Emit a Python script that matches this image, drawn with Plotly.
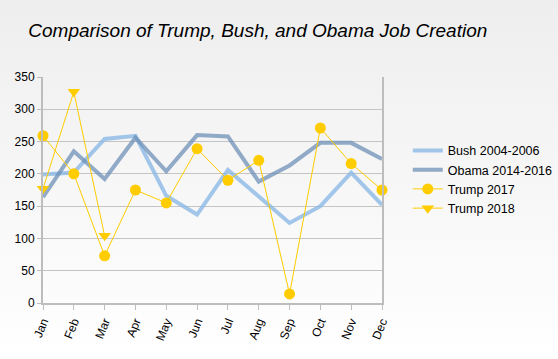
import plotly.graph_objects as go

months = ["Jan", "Feb", "Mar", "Apr", "May", "Jun", "Jul", "Aug", "Sep", "Oct", "Nov", "Dec"]
bush = [199, 202, 254, 259, 166, 137, 206, 165, 124, 150, 202, 152]
obama = [164, 235, 192, 256, 204, 260, 258, 188, 213, 248, 248, 223]
trump2017 = [259, 200, 73, 175, 155, 239, 190, 221, 14, 271, 216, 175]
trump2018 = [177, 327, 104]
yticks = [0, 50, 100, 150, 200, 250, 300, 350]

gold = "#ffcc00"

fig = go.Figure()
fig.add_trace(go.Scatter(x=months, y=bush, name="Bush 2004-2006", mode="lines",
                         line=dict(color="rgba(140,185,230,0.8)", width=4)))
fig.add_trace(go.Scatter(x=months, y=obama, name="Obama 2014-2016", mode="lines",
                         line=dict(color="rgba(105,140,180,0.72)", width=4)))
fig.add_trace(go.Scatter(x=months, y=trump2017, name="Trump 2017", mode="lines+markers",
                         line=dict(color=gold, width=1),
                         marker=dict(color=gold, size=11, symbol="circle"), cliponaxis=False))
fig.add_trace(go.Scatter(x=months[:len(trump2018)], y=trump2018, name="Trump 2018", mode="lines+markers",
                         line=dict(color=gold, width=1),
                         marker=dict(color=gold, size=11, symbol="triangle-down"), cliponaxis=False))

svg = ("data:image/svg+xml;utf8,<svg xmlns='http://www.w3.org/2000/svg' width='10' height='100' preserveAspectRatio='none'>"
       "<defs><linearGradient id='g' x1='0' y1='0' x2='0' y2='1'>"
       "<stop offset='0' stop-color='%23eeeeee'/><stop offset='1' stop-color='%23ffffff'/>"
       "</linearGradient></defs><rect width='10' height='100' fill='url(%23g)'/></svg>")

fig.update_layout(
    width=558, height=359,
    margin=dict(l=43, r=176, t=77, b=56, autoexpand=False),
    paper_bgcolor="#f5f5f5",
    plot_bgcolor="rgba(0,0,0,0)",
    images=[dict(source=svg, xref="paper", yref="paper", x=-0.127, y=1.341,
                 sizex=1.646, sizey=1.589, sizing="stretch", layer="below",
                 xanchor="left", yanchor="top")],
    title=dict(text="Comparison of Trump, Bush, and Obama Job Creation",
               font=dict(family="Liberation Sans", size=19, color="#000000", style="italic"),
               x=0.462, xanchor="center", y=0.916, yanchor="middle"),
    font=dict(family="Liberation Sans, Arial", size=12, color="#000000"),
    showlegend=True,
    legend=dict(x=1.076, y=0.74, xanchor="left", yanchor="top",
                bgcolor="rgba(0,0,0,0)", font=dict(size=12.5), itemwidth=30,
                tracegroupgap=0),
    xaxis=dict(type="category", range=[0, 11], tickangle=-68, showgrid=False,
               showline=True, linecolor="#bdbdbd", linewidth=2,
               ticks="outside", ticklen=5, tickcolor="#bdbdbd", tickwidth=1,
               zeroline=False),
    yaxis=dict(range=[0, 350], tickvals=yticks, showgrid=True, gridcolor="#c4c4c4",
               gridwidth=1, showline=True, linecolor="#bdbdbd", linewidth=2, mirror=True,
               ticks="outside", ticklen=4, tickcolor="#bdbdbd", zeroline=False),
)

fig.write_html("out.html", config={"displayModeBar": False},
               post_script="document.body.style.margin='0';")
